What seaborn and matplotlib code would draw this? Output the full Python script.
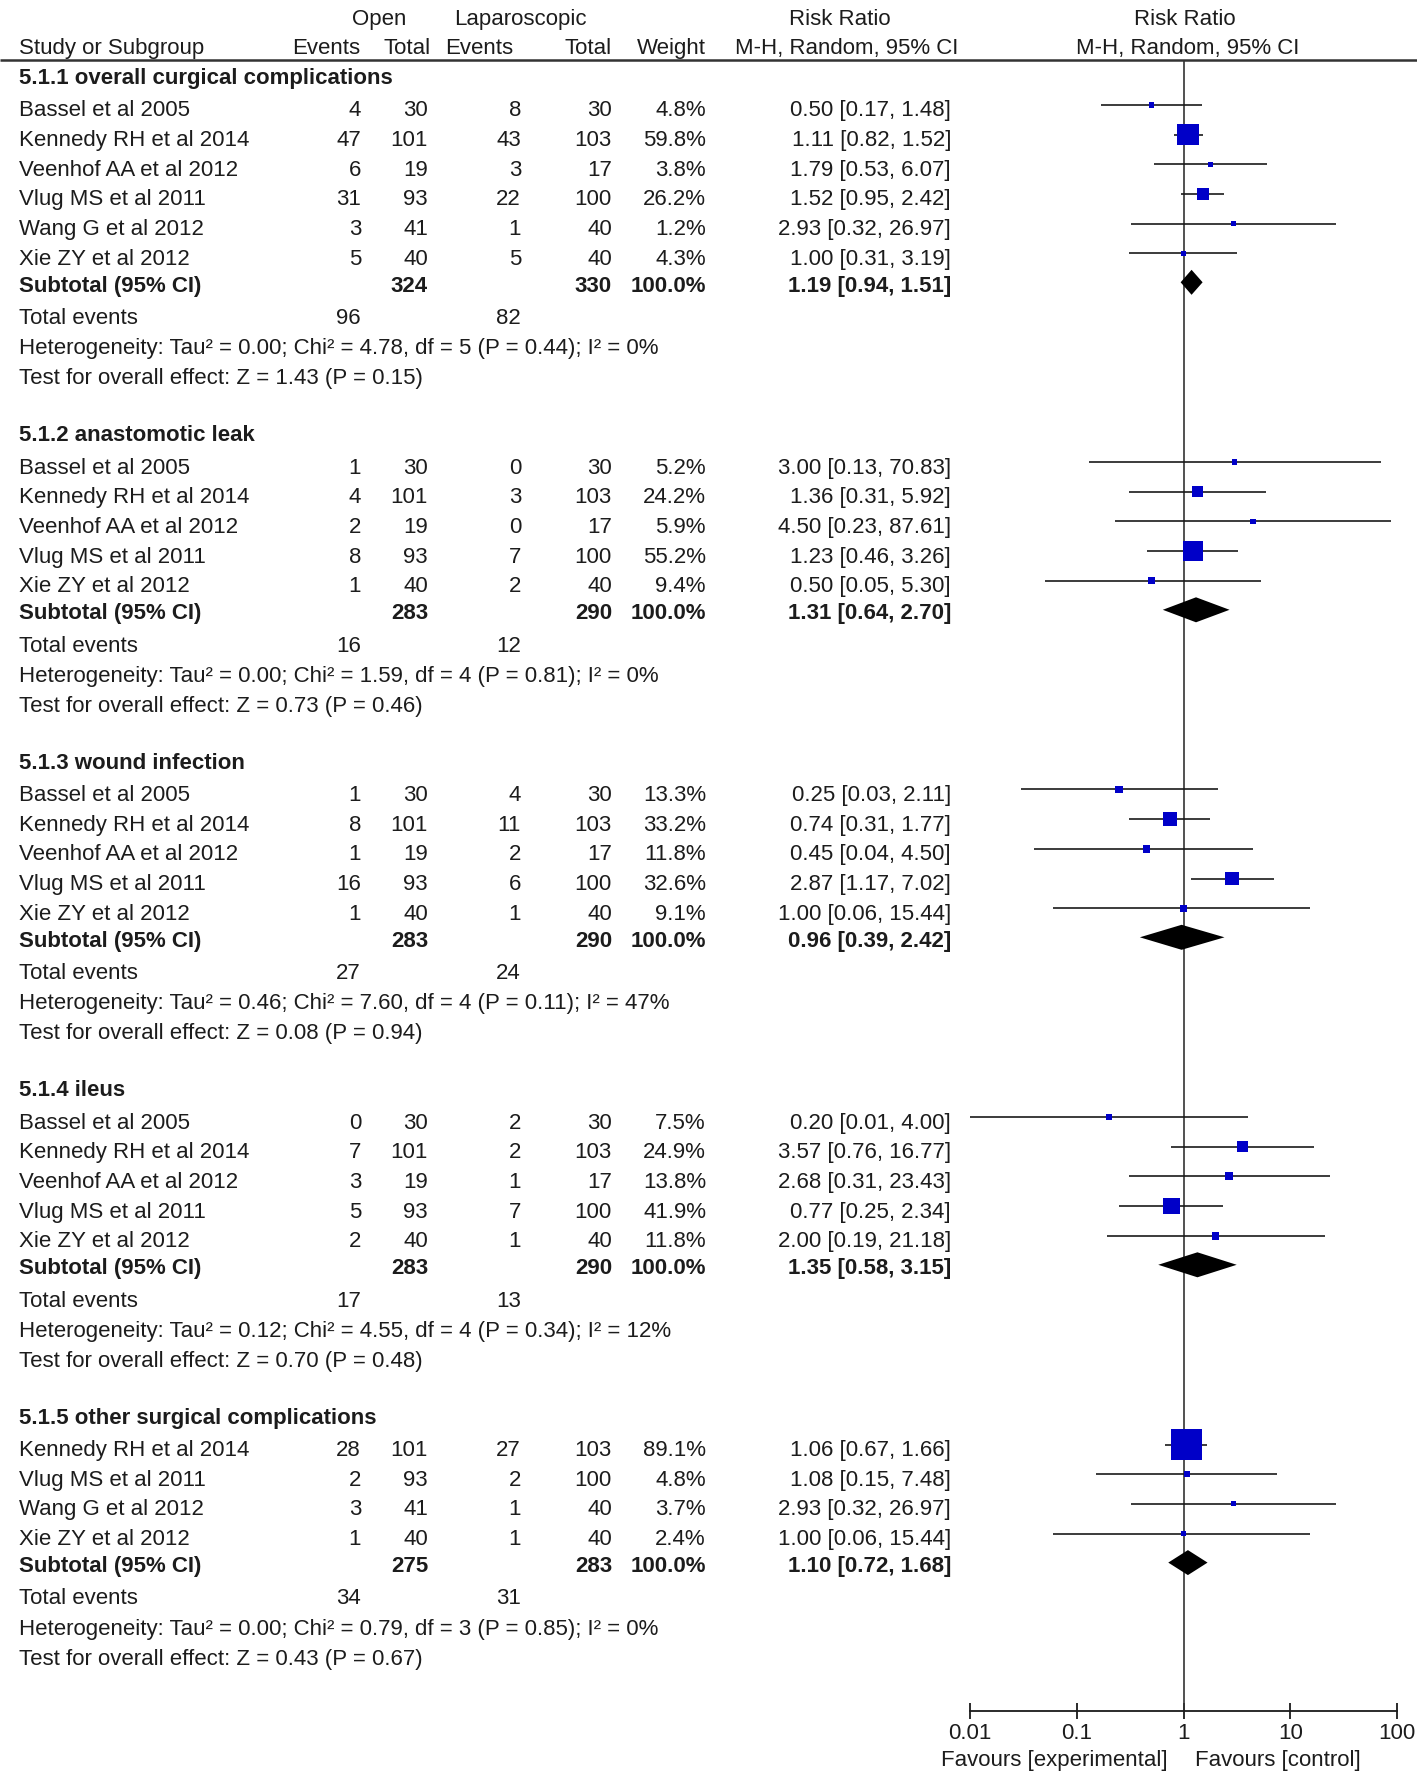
import numpy as np
import pandas as pd
import seaborn as sns
import matplotlib.pyplot as plt

sns.set_theme(style="white")
plt.rcParams["font.family"] = ["Liberation Sans", "DejaVu Sans"]

# ---- data ----
s1_title = "5.1.1 overall curgical complications"
s1_studies = ["Bassel et al 2005", "Kennedy RH et al 2014", "Veenhof AA et al 2012",
              "Vlug MS et al 2011", "Wang G et al 2012", "Xie ZY et al 2012"]
s1_open_ev = [4, 47, 6, 31, 3, 5]
s1_open_n = [30, 101, 19, 93, 41, 40]
s1_lap_ev = [8, 43, 3, 22, 1, 5]
s1_lap_n = [30, 103, 17, 100, 40, 40]
s1_weight = [4.8, 59.8, 3.8, 26.2, 1.2, 4.3]
s1_rr = [0.50, 1.11, 1.79, 1.52, 2.93, 1.00]
s1_lo = [0.17, 0.82, 0.53, 0.95, 0.32, 0.31]
s1_hi = [1.48, 1.52, 6.07, 2.42, 26.97, 3.19]
s1_sub = [324, 330, 1.19, 0.94, 1.51]
s1_events = [96, 82]
s1_het = "Heterogeneity: Tau² = 0.00; Chi² = 4.78, df = 5 (P = 0.44); I² = 0%"
s1_test = "Test for overall effect: Z = 1.43 (P = 0.15)"

s2_title = "5.1.2 anastomotic leak"
s2_studies = ["Bassel et al 2005", "Kennedy RH et al 2014", "Veenhof AA et al 2012",
              "Vlug MS et al 2011", "Xie ZY et al 2012"]
s2_open_ev = [1, 4, 2, 8, 1]
s2_open_n = [30, 101, 19, 93, 40]
s2_lap_ev = [0, 3, 0, 7, 2]
s2_lap_n = [30, 103, 17, 100, 40]
s2_weight = [5.2, 24.2, 5.9, 55.2, 9.4]
s2_rr = [3.00, 1.36, 4.50, 1.23, 0.50]
s2_lo = [0.13, 0.31, 0.23, 0.46, 0.05]
s2_hi = [70.83, 5.92, 87.61, 3.26, 5.30]
s2_sub = [283, 290, 1.31, 0.64, 2.70]
s2_events = [16, 12]
s2_het = "Heterogeneity: Tau² = 0.00; Chi² = 1.59, df = 4 (P = 0.81); I² = 0%"
s2_test = "Test for overall effect: Z = 0.73 (P = 0.46)"

s3_title = "5.1.3 wound infection"
s3_studies = ["Bassel et al 2005", "Kennedy RH et al 2014", "Veenhof AA et al 2012",
              "Vlug MS et al 2011", "Xie ZY et al 2012"]
s3_open_ev = [1, 8, 1, 16, 1]
s3_open_n = [30, 101, 19, 93, 40]
s3_lap_ev = [4, 11, 2, 6, 1]
s3_lap_n = [30, 103, 17, 100, 40]
s3_weight = [13.3, 33.2, 11.8, 32.6, 9.1]
s3_rr = [0.25, 0.74, 0.45, 2.87, 1.00]
s3_lo = [0.03, 0.31, 0.04, 1.17, 0.06]
s3_hi = [2.11, 1.77, 4.50, 7.02, 15.44]
s3_sub = [283, 290, 0.96, 0.39, 2.42]
s3_events = [27, 24]
s3_het = "Heterogeneity: Tau² = 0.46; Chi² = 7.60, df = 4 (P = 0.11); I² = 47%"
s3_test = "Test for overall effect: Z = 0.08 (P = 0.94)"

s4_title = "5.1.4 ileus"
s4_studies = ["Bassel et al 2005", "Kennedy RH et al 2014", "Veenhof AA et al 2012",
              "Vlug MS et al 2011", "Xie ZY et al 2012"]
s4_open_ev = [0, 7, 3, 5, 2]
s4_open_n = [30, 101, 19, 93, 40]
s4_lap_ev = [2, 2, 1, 7, 1]
s4_lap_n = [30, 103, 17, 100, 40]
s4_weight = [7.5, 24.9, 13.8, 41.9, 11.8]
s4_rr = [0.20, 3.57, 2.68, 0.77, 2.00]
s4_lo = [0.01, 0.76, 0.31, 0.25, 0.19]
s4_hi = [4.00, 16.77, 23.43, 2.34, 21.18]
s4_sub = [283, 290, 1.35, 0.58, 3.15]
s4_events = [17, 13]
s4_het = "Heterogeneity: Tau² = 0.12; Chi² = 4.55, df = 4 (P = 0.34); I² = 12%"
s4_test = "Test for overall effect: Z = 0.70 (P = 0.48)"

s5_title = "5.1.5 other surgical complications"
s5_studies = ["Kennedy RH et al 2014", "Vlug MS et al 2011", "Wang G et al 2012",
              "Xie ZY et al 2012"]
s5_open_ev = [28, 2, 3, 1]
s5_open_n = [101, 93, 41, 40]
s5_lap_ev = [27, 2, 1, 1]
s5_lap_n = [103, 100, 40, 40]
s5_weight = [89.1, 4.8, 3.7, 2.4]
s5_rr = [1.06, 1.08, 2.93, 1.00]
s5_lo = [0.67, 0.15, 0.32, 0.06]
s5_hi = [1.66, 7.48, 26.97, 15.44]
s5_sub = [275, 283, 1.10, 0.72, 1.68]
s5_events = [34, 31]
s5_het = "Heterogeneity: Tau² = 0.00; Chi² = 0.79, df = 3 (P = 0.85); I² = 0%"
s5_test = "Test for overall effect: Z = 0.43 (P = 0.67)"

x_ticks = [0.01, 0.1, 1, 10, 100]
x_ticklabels = ["0.01", "0.1", "1", "10", "100"]

sections = [
    (s1_title, s1_studies, s1_open_ev, s1_open_n, s1_lap_ev, s1_lap_n, s1_weight, s1_rr, s1_lo, s1_hi, s1_sub, s1_events, s1_het, s1_test),
    (s2_title, s2_studies, s2_open_ev, s2_open_n, s2_lap_ev, s2_lap_n, s2_weight, s2_rr, s2_lo, s2_hi, s2_sub, s2_events, s2_het, s2_test),
    (s3_title, s3_studies, s3_open_ev, s3_open_n, s3_lap_ev, s3_lap_n, s3_weight, s3_rr, s3_lo, s3_hi, s3_sub, s3_events, s3_het, s3_test),
    (s4_title, s4_studies, s4_open_ev, s4_open_n, s4_lap_ev, s4_lap_n, s4_weight, s4_rr, s4_lo, s4_hi, s4_sub, s4_events, s4_het, s4_test),
    (s5_title, s5_studies, s5_open_ev, s5_open_n, s5_lap_ev, s5_lap_n, s5_weight, s5_rr, s5_lo, s5_hi, s5_sub, s5_events, s5_het, s5_test),
]

# ---- layout (figure in pixel units) ----
W, H = 1417, 1785
FS = 16
TXT = "#1c1c1c"
X_NAME, X_OE, X_ON, X_LE, X_LN, X_W, X_RR = 19, 361, 428, 521, 612, 706, 951
AXIS_Y = 1711
HEAD_Y = 60

# build rows
studies, subs, texts = [], [], []
y = 78.3
for (title, names, oe, on, le, ln, w, rr, lo, hi, sub, ev, het, test) in sections:
    texts.append((X_NAME, y, title, "left", "bold"))
    y += 32.5
    for i in range(len(names)):
        if i:
            y += 29.7
        studies.append({"ypos": y, "study": names[i], "open_ev": oe[i], "open_n": on[i],
                        "lap_ev": le[i], "lap_n": ln[i], "weight": w[i],
                        "rr": rr[i], "ci_lo": lo[i], "ci_hi": hi[i]})
    y += 27
    subs.append({"ypos": y, "open_n": sub[0], "lap_n": sub[1],
                 "rr": sub[2], "ci_lo": sub[3], "ci_hi": sub[4]})
    y += 32.3
    texts.append((X_NAME, y, "Total events", "left", "normal"))
    texts.append((X_OE, y, str(ev[0]), "right", "normal"))
    texts.append((X_LE, y, str(ev[1]), "right", "normal"))
    y += 30.3
    texts.append((X_NAME, y, het, "left", "normal"))
    y += 29.8
    texts.append((X_NAME, y, test, "left", "normal"))
    y += 56.8

df = pd.DataFrame(studies)
sub_df = pd.DataFrame(subs)
df["ymark"] = df["ypos"] - 6
sub_df["ymark"] = sub_df["ypos"] - 4
# square side grows with weight
df["msize"] = ((4 + 0.3 * df["weight"]) * 0.72) ** 2

fig = plt.figure(figsize=(W / 100, H / 100), dpi=100)
tab = fig.add_axes([0, 0, 1, 1])
tab.set_xlim(0, W)
tab.set_ylim(H, 0)
tab.axis("off")

fax = fig.add_axes([970 / W, 0, 427 / W, 1])
fax.set_facecolor("none")
fax.set_xscale("log")


def put(x, y, s, ha="left", weight="normal"):
    tab.text(x, y, s, ha=ha, va="center", fontsize=FS, fontweight=weight, color=TXT)


# header
put(379, 19, "Open", "center")
put(520, 19, "Laparoscopic", "center")
put(840, 19, "Risk Ratio", "center")
put(1185, 19, "Risk Ratio", "center")
put(X_NAME, 48, "Study or Subgroup")
put(360, 48, "Events", "right")
put(431, 48, "Total", "right")
put(513, 48, "Events", "right")
put(612, 48, "Total", "right")
put(706, 48, "Weight", "right")
put(847, 48, "M-H, Random, 95% CI", "center")
put(1188, 48, "M-H, Random, 95% CI", "center")
tab.hlines(HEAD_Y, 0, W, color="#333333", lw=1.8)

for (x, yy, s, ha, wt) in texts:
    put(x, yy, s, ha, wt)

for r in df.itertuples():
    put(X_NAME, r.ypos, r.study)
    put(X_OE, r.ypos, str(r.open_ev), "right")
    put(X_ON, r.ypos, str(r.open_n), "right")
    put(X_LE, r.ypos, str(r.lap_ev), "right")
    put(X_LN, r.ypos, str(r.lap_n), "right")
    put(X_W, r.ypos, f"{r.weight:.1f}%", "right")
    put(X_RR, r.ypos, f"{r.rr:.2f} [{r.ci_lo:.2f}, {r.ci_hi:.2f}]", "right")

for r in sub_df.itertuples():
    put(X_NAME, r.ypos, "Subtotal (95% CI)", "left", "bold")
    put(X_ON, r.ypos, str(int(r.open_n)), "right", "bold")
    put(X_LN, r.ypos, str(int(r.lap_n)), "right", "bold")
    put(X_W, r.ypos, "100.0%", "right", "bold")
    put(X_RR, r.ypos, f"{r.rr:.2f} [{r.ci_lo:.2f}, {r.ci_hi:.2f}]", "right", "bold")

# forest plot
fax.vlines(1, HEAD_Y, AXIS_Y, color="#333333", lw=1.2, zorder=1)
fax.hlines(df["ymark"], df["ci_lo"], df["ci_hi"], color="#1a1a1a", lw=1.2, zorder=2)
sns.scatterplot(data=df, x="rr", y="ymark", marker="s", s=df["msize"].values,
                color="#0000c8", linewidth=0, zorder=3, ax=fax, legend=False)
for r in sub_df.itertuples():
    fax.fill([r.ci_lo, r.rr, r.ci_hi, r.rr],
             [r.ymark, r.ymark - 12.5, r.ymark, r.ymark + 12.5],
             color="black", lw=0, zorder=3)

fax.set_xlim(0.01, 100)
fax.set_ylim(H, 0)
fax.set_xlabel("")
fax.set_ylabel("")
for side in ["left", "right", "top"]:
    fax.spines[side].set_visible(False)
fax.spines["bottom"].set_position(("data", AXIS_Y))
fax.spines["bottom"].set_color("#1a1a1a")
fax.spines["bottom"].set_linewidth(1.3)
fax.set_xticks(x_ticks)
fax.set_xticklabels(x_ticklabels)
fax.minorticks_off()
fax.set_yticks([])
fax.tick_params(axis="x", direction="inout", length=11, width=1.3, color="#1a1a1a",
                labelsize=FS, labelcolor=TXT, pad=3, bottom=True)

put(1168, 1760, "Favours [experimental]", "right")
put(1195, 1760, "Favours [control]", "left")

fig.savefig("out.png", dpi=100)
